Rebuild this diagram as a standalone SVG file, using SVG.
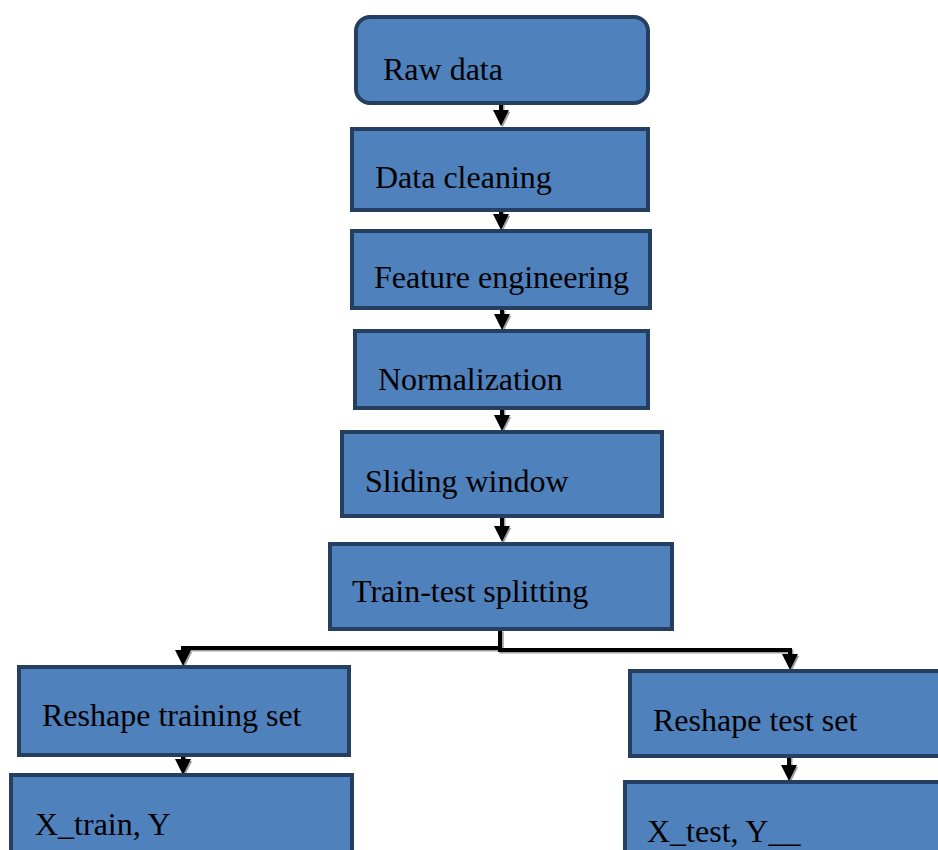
<svg xmlns="http://www.w3.org/2000/svg" width="938" height="850" viewBox="0 0 938 850">
<defs>
<style>
.box{fill:#4F81BD;stroke:#243F60;stroke-width:4}
.lbl{font-family:"Liberation Serif","Times New Roman",serif;font-size:32px;fill:#000}
.ln{fill:none;stroke:#000;stroke-width:4}
.sh{fill:none;stroke:#A0A0A0;stroke-width:4}
</style>
<marker id="ah" markerUnits="userSpaceOnUse" markerWidth="16" markerHeight="16" viewBox="0 0 16 16" refX="6" refY="8" orient="auto">
<path d="M0,0 L16,8 L0,16 Z" fill="#000"/>
</marker>
<marker id="ahs" markerUnits="userSpaceOnUse" markerWidth="16" markerHeight="16" viewBox="0 0 16 16" refX="6" refY="8" orient="auto">
<path d="M0,0 L16,8 L0,16 Z" fill="#A0A0A0"/>
</marker>
</defs>
<rect width="938" height="850" fill="#fff"/>
<g id="connectors">
<g transform="translate(1.5,1.5)">
<path class="sh" d="M501,103 V116" marker-end="url(#ahs)"/>
<path class="sh" d="M501,210 V220" marker-end="url(#ahs)"/>
<path class="sh" d="M502,309 V320" marker-end="url(#ahs)"/>
<path class="sh" d="M502,408 V421" marker-end="url(#ahs)"/>
<path class="sh" d="M502,516 V532" marker-end="url(#ahs)"/>
<path class="sh" d="M500,630 V648 H183 V656" marker-end="url(#ahs)"/>
<path class="sh" d="M500,630 V650 H790 V660" marker-end="url(#ahs)"/>
<path class="sh" d="M183,755 V765" marker-end="url(#ahs)"/>
<path class="sh" d="M789,756 V771" marker-end="url(#ahs)"/>
</g>
<path class="ln" d="M501,103 V116" marker-end="url(#ah)"/>
<path class="ln" d="M501,210 V220" marker-end="url(#ah)"/>
<path class="ln" d="M502,309 V320" marker-end="url(#ah)"/>
<path class="ln" d="M502,408 V421" marker-end="url(#ah)"/>
<path class="ln" d="M502,516 V532" marker-end="url(#ah)"/>
<path class="ln" d="M500,630 V648 H183 V656" marker-end="url(#ah)"/>
<path class="ln" d="M500,630 V650 H790 V660" marker-end="url(#ah)"/>
<path class="ln" d="M183,755 V765" marker-end="url(#ah)"/>
<path class="ln" d="M789,756 V771" marker-end="url(#ah)"/>
</g>
<g id="raw"><rect class="box" x="356" y="17" width="292" height="86" rx="14"/><text class="lbl" x="383" y="80">Raw data</text></g>
<g id="clean"><rect class="box" x="352" y="129" width="296" height="81"/><text class="lbl" x="375" y="188">Data cleaning</text></g>
<g id="feat"><rect class="box" x="352" y="231" width="298" height="77"/><text class="lbl" x="374" y="288">Feature engineering</text></g>
<g id="norm"><rect class="box" x="355" y="331" width="293" height="77"/><text class="lbl" x="378" y="390">Normalization</text></g>
<g id="slide"><rect class="box" x="342" y="432" width="320" height="84"/><text class="lbl" x="365" y="492">Sliding window</text></g>
<g id="split"><rect class="box" x="330" y="544" width="342" height="85"/><text class="lbl" x="352" y="602">Train-test splitting</text></g>
<g id="rtrain"><rect class="box" x="19" y="667" width="330" height="88"/><text class="lbl" x="42" y="726">Reshape training set</text></g>
<g id="rtest"><rect class="box" x="630" y="671" width="320" height="85"/><text class="lbl" x="653" y="731">Reshape test set</text></g>
<g id="xtrain"><rect class="box" x="11" y="775" width="341" height="100"/><text class="lbl" x="35" y="835">X_train, Y</text></g>
<g id="xtest"><rect class="box" x="625" y="782" width="330" height="100"/><text class="lbl" x="647" y="842">X_test, Y__</text></g>
</svg>
